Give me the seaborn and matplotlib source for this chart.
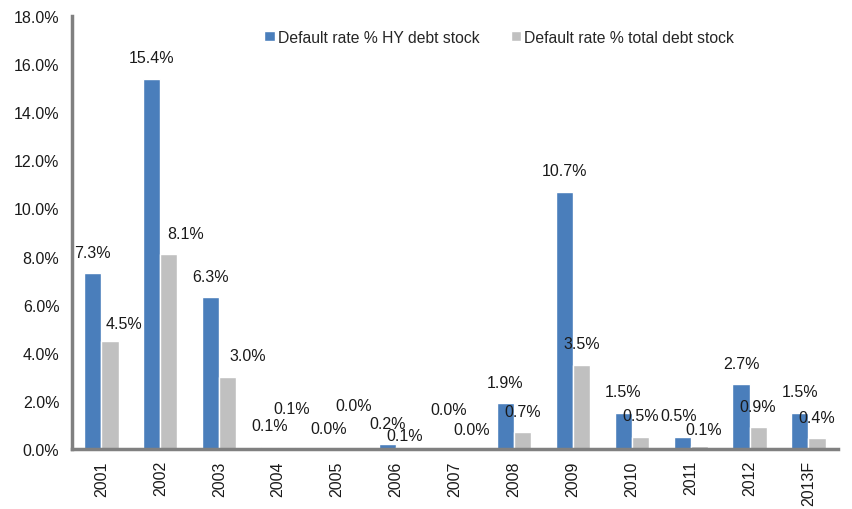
import numpy as np
import pandas as pd
import matplotlib
matplotlib.use('Agg')
import matplotlib.pyplot as plt
import seaborn as sb

# Chart data
years = ['2001', '2002', '2003', '2004', '2005', '2006', '2007',
         '2008', '2009', '2010', '2011', '2012', '2013F']
hy_rate = [7.3, 15.4, 6.3, 0.1, 0.0, 0.2, 0.04, 1.9, 10.7, 1.5, 0.5, 2.7, 1.5]
total_rate = [4.5, 8.1, 3.0, 0.1, 0.0, 0.1, 0.04, 0.7, 3.5, 0.5, 0.14, 0.9, 0.44]
series_names = ['Default rate % HY debt stock', 'Default rate % total debt stock']
y_ticks = [0, 2, 4, 6, 8, 10, 12, 14, 16, 18]

# label nudges in pixels (dx, dy), Excel moved a few of them around
hy_nudge = [(0, 0)] * 6 + [(2, -18)] + [(0, 0)] * 3 + [(-3, 0)] + [(0, 0)] * 2
total_nudge = [(14, 4), (17, 0), (20, 0), (5, -17), (8, -23), (0, 10), (8, 2),
               (0, 0), (0, 0), (0, 0), (4, 5), (0, 0), (0, 0)]

df = pd.DataFrame({
    'year': years * 2,
    'rate': hy_rate + total_rate,
    'series': [series_names[0]] * len(years) + [series_names[1]] * len(years),
})

sb.set_style('white')
plt.rcParams['font.family'] = ['Liberation Sans', 'DejaVu Sans']

fig = plt.figure(figsize=(8.52, 5.10), dpi=100)
ax = fig.add_axes([0.0845, 0.1176, 0.899, 0.849])

sb.barplot(data=df, x='year', y='rate', hue='series', order=years,
           palette=['#4a7ebb', '#c0c0c0'], width=0.58, saturation=1,
           ax=ax, legend=True)

px = 0.72  # points per pixel at dpi 100
for cont, nudges in zip(ax.containers, [hy_nudge, total_nudge]):
    for bar, (dx, dy) in zip(cont, nudges):
        h = bar.get_height()
        ax.annotate('%.1f%%' % h,
                    xy=(bar.get_x() + bar.get_width() / 2, h),
                    xytext=(dx * px, (21 - dy) * px), textcoords='offset points',
                    ha='center', va='center', fontsize=11.5, color='#1a1a1a')

ax.set_xlim(-0.5, len(years) - 0.5)
ax.set_ylim(0, 18)
ax.set_yticks(y_ticks)
ax.set_yticklabels(['%.1f%%' % t for t in y_ticks], fontsize=11.5, color='#1a1a1a')
ax.set_xticks(range(len(years)))
ax.set_xticklabels(years, rotation=90, fontsize=11.5, color='#1a1a1a')
ax.set_xticks(np.arange(-0.5, len(years)), minor=True)
ax.tick_params(axis='x', which='major', length=0, pad=8)
ax.tick_params(axis='x', which='minor', length=5, width=1.5, color='#808080', direction='out')
ax.tick_params(axis='y', length=5, width=1.5, color='#808080', direction='out', pad=4)
ax.set_xlabel('')
ax.set_ylabel('')

for side in ['top', 'right']:
    ax.spines[side].set_visible(False)
for side in ['left', 'bottom']:
    ax.spines[side].set_color('#808080')
    ax.spines[side].set_linewidth(2.5)

handles, labels = ax.get_legend_handles_labels()
ax.legend(handles, labels, loc='center left', bbox_to_anchor=(0.303, 0.925),
          bbox_transform=fig.transFigure, ncol=2, frameon=False, fontsize=11.3,
          handlelength=0.65, handleheight=0.65, handletextpad=0.2, columnspacing=2.0,
          borderaxespad=0)

fig.savefig('out.png', dpi=100)
